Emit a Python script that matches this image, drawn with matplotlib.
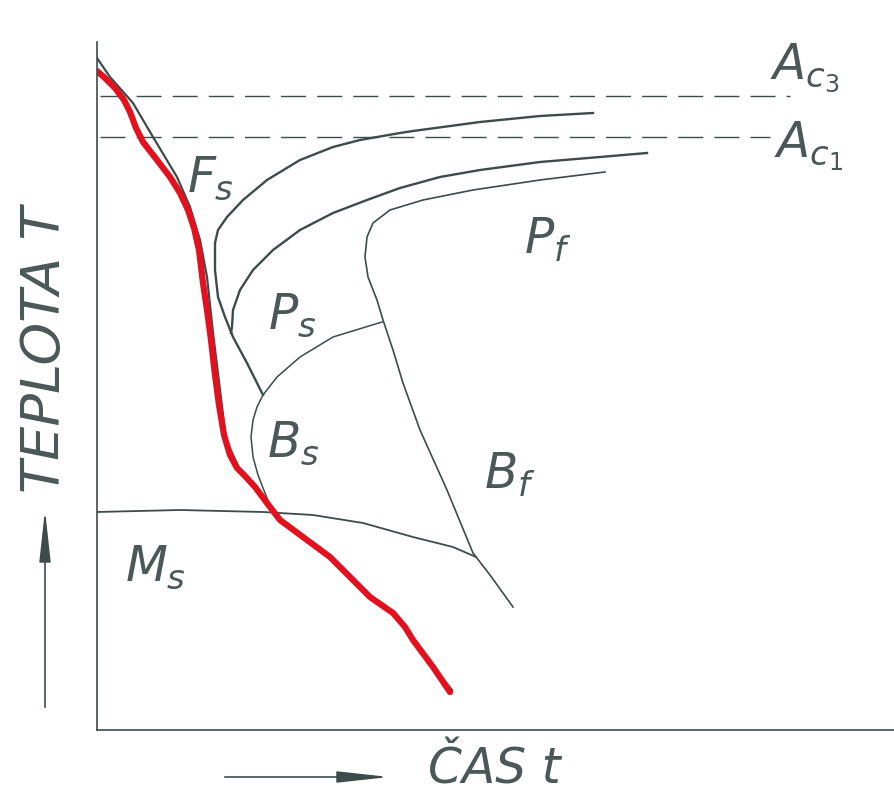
import numpy as np
import matplotlib.pyplot as plt

plt.rcParams['lines.scale_dashes'] = False
plt.rcParams['mathtext.fontset'] = 'dejavusans'

# time t (arbitrary units) and temperature T (arbitrary units)
cool_t = [0, 8, 18, 27, 33, 39, 46, 60, 73, 83, 91, 97, 102, 106, 110, 114, 118, 122,
          127, 133, 140, 148, 158, 170, 183, 210, 233, 256, 273, 296, 308, 316, 336, 353]
cool_T = [659, 652, 642, 630, 618, 602, 588, 570, 553, 537, 520, 502, 480, 447, 420,
          390, 355, 325, 295, 275, 262, 254, 243, 227, 210, 190, 173, 150, 133, 117,
          103, 90, 63, 38]

# original pencil cooling line under the red one
cool0_t = [0, 13, 36, 56, 80, 93, 103, 110, 116, 123, 129, 143, 165, 183, 210, 233,
           256, 273, 296, 316, 336, 355]
cool0_T = [672, 653, 627, 593, 553, 523, 490, 453, 397, 340, 290, 260, 235, 210, 190,
           173, 150, 133, 117, 90, 63, 40]

fs_t = [496, 443, 383, 316, 303, 263, 236, 203, 170, 146, 130, 121, 118, 118, 121,
        128, 136, 150, 166]
fs_T = [617, 614, 608, 599, 597, 590, 583, 570, 550, 530, 513, 500, 487, 460, 433,
        413, 393, 367, 335]

ps_t = [550, 503, 443, 383, 343, 303, 270, 236, 203, 176, 156, 143, 136, 135, 134]
ps_T = [577, 573, 568, 560, 553, 542, 530, 517, 500, 480, 460, 440, 420, 403, 397]

pf_t = [508, 443, 376, 326, 293, 276, 270, 268, 271, 280, 286, 296, 306, 323, 350,
        376, 393, 416]
pf_T = [558, 550, 540, 530, 520, 507, 493, 473, 453, 430, 410, 380, 347, 300, 240,
        177, 155, 123]

pb_t = [285, 236, 203, 180, 166]
pb_T = [408, 393, 373, 353, 335]

bs_t = [166, 160, 156, 154, 156, 161, 168, 176]
bs_T = [335, 323, 310, 293, 273, 255, 237, 217]

ms_t = [0, 83, 166, 216, 266, 316, 356, 379]
ms_T = [218, 220, 218, 215, 207, 193, 183, 173]

ac3_T, ac3_end = 634, 693
ac1_T, ac1_end = 593, 673

labels = ['$F_s$', '$P_s$', '$P_f$', '$B_s$', '$B_f$', '$M_s$', '$A_{c_3}$', '$A_{c_1}$']
label_t = [113, 195, 451, 196, 413, 58, 708, 712]
label_T = [552, 415, 490, 287, 255, 163, 662, 584]

ink = '#3e4b4b'
txt = '#4b5858'

fig = plt.figure(figsize=(8.95, 7.98), dpi=100)
ax = fig.add_axes([97 / 895, 68 / 798, 798 / 895, 688 / 798])
ax.set_xlim(0, 798)
ax.set_ylim(0, 688)
for s in ['top', 'right']:
    ax.spines[s].set_visible(False)
for s in ['left', 'bottom']:
    ax.spines[s].set_color(ink)
    ax.spines[s].set_linewidth(1.2)
ax.set_xticks([])
ax.set_yticks([])

# critical temperatures
ax.plot([3, ac3_end], [ac3_T, ac3_T], color=ink, lw=1.0, dashes=(18, 8))
ax.plot([3, ac1_end], [ac1_T, ac1_T], color=ink, lw=1.0, dashes=(18, 8))

# transformation curves
ax.plot(fs_t, fs_T, color=ink, lw=1.7)
ax.plot(ps_t, ps_T, color=ink, lw=1.7)
ax.plot(pf_t, pf_T, color=ink, lw=1.2)
ax.plot(pb_t, pb_T, color=ink, lw=1.1)
ax.plot(bs_t, bs_T, color=ink, lw=1.1)
ax.plot(ms_t, ms_T, color=ink, lw=1.3)

# cooling curve
ax.plot(cool0_t, cool0_T, color=ink, lw=1.6)
ax.plot(cool_t, cool_T, color='#e3101e', lw=4.5, solid_capstyle='round',
        solid_joinstyle='round')

for lab, x, y in zip(labels, label_t, label_T):
    ax.text(x, y, lab, fontsize=35, color=txt, ha='center', va='center')

# axis labels with arrows
ax.text(-52, 380, 'TEPLOTA T', fontsize=39, color=txt, style='italic',
        rotation=90, ha='center', va='center')
ax.text(397, -40, 'ČAS t', fontsize=35, color=txt, style='italic',
        ha='center', va='center')
ax.annotate('', xy=(-52, 223), xytext=(-52, 20), annotation_clip=False,
            arrowprops=dict(arrowstyle='-|>,head_length=3.2,head_width=0.35',
                            mutation_scale=10, color=ink, lw=1.2))
ax.annotate('', xy=(295, -47), xytext=(125, -47), annotation_clip=False,
            arrowprops=dict(arrowstyle='-|>,head_length=3.2,head_width=0.35',
                            mutation_scale=10, color=ink, lw=1.2))

fig.savefig('out.png', dpi=100)
